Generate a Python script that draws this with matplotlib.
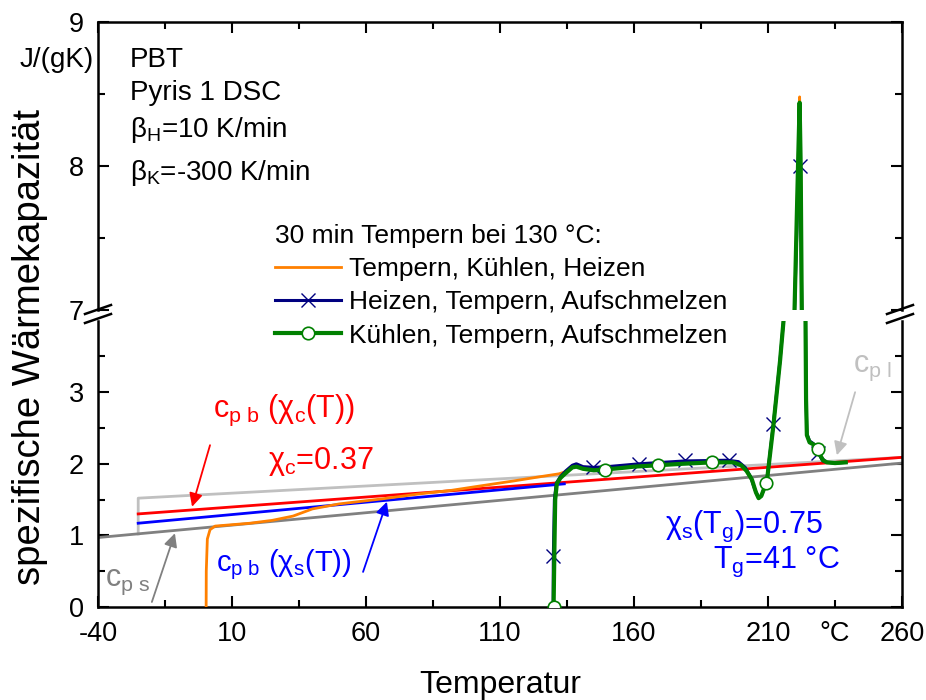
# PBT: specific heat capacity vs temperature, broken y axis (0-4 / 7-9)

import matplotlib.pyplot as plt
from matplotlib.lines import Line2D

plt.rcParams['font.family'] = ['Liberation Sans', 'DejaVu Sans']
plt.rcParams['mathtext.fontset'] = 'custom'
plt.rcParams['mathtext.rm'] = 'Liberation Sans'
plt.rcParams['mathtext.it'] = 'Liberation Sans'
plt.rcParams['mathtext.default'] = 'regular'
plt.rcParams['axes.unicode_minus'] = False

# --- Data ---
# solid / liquid heat capacity and baselines
T_cps = [-40, 260]
cp_s = [0.97, 2.01]
T_cpl = [-25, -25, 260]
cp_l = [1.02, 1.52, 2.09]
T_red = [-25, 260]
cp_red = [1.30, 2.09]
T_blue = [-25, 134]
cp_blue = [1.17, 1.72]

# Tempern, Kuehlen, Heizen (orange)
T_orange = [0.3, 0.4, 0.8, 1.8, 3.7, 16.7, 25, 32.8, 40, 50, 66, 80, 92, 102.5,
            115, 125, 132, 134.5, 137, 138.5, 141, 145, 150, 160, 170, 180, 190,
            197, 200, 202, 204, 205.5, 206.5, 207.5, 208.5, 209.6, 212, 214.5,
            215.8, 219.9, 221.2, 221.8, 222.2, 222.6, 224.0, 224.2, 224.5, 225.5,
            227, 228.5, 229.5, 230.5, 232, 235, 239]
cp_orange = [-0.5, 0.5, 0.95, 1.08, 1.13, 1.17, 1.21, 1.27, 1.37, 1.44, 1.51,
             1.58, 1.63, 1.69, 1.76, 1.82, 1.86, 1.89, 1.97, 1.99, 1.95, 1.94,
             1.95, 1.98, 2.00, 2.02, 2.03, 2.03, 1.99, 1.90, 1.78, 1.60, 1.52,
             1.55, 1.65, 1.77, 2.54, 3.44, 4.0, 7.0, 8.0, 8.48, 8.0, 7.0, 4.0,
             2.9, 2.40, 2.30, 2.27, 2.20, 2.11, 2.05, 2.02, 2.01, 2.02]

# Heizen, Tempern, Aufschmelzen (navy)
T_navy = [129.8, 129.9, 130.3, 131, 132.5, 134.5, 137, 138.5, 141, 145, 150,
          162, 179, 195, 199, 201.5, 203.5, 205, 206.5, 207.5, 208.5, 209.6,
          212, 214.5, 215.8, 219.9, 221.3, 221.8, 222.1, 222.6, 224.0, 224.2,
          224.5, 225.5, 227, 228.5, 229.5, 230.5, 232, 235, 239]
cp_navy = [-0.3, 0.7, 1.5, 1.73, 1.82, 1.90, 1.98, 2.00, 1.96, 1.95, 1.96,
           2.00, 2.04, 2.05, 2.03, 1.95, 1.82, 1.65, 1.53, 1.55, 1.65, 1.78,
           2.55, 3.45, 4.0, 7.0, 7.9, 8.05, 7.9, 7.0, 4.0, 2.9, 2.42, 2.32,
           2.28, 2.18, 2.10, 2.04, 2.02, 2.01, 2.02]
T_navy_mk = [129.8, 144.7, 162, 179, 195.4, 212, 228.5, 221.8]
cp_navy_mk = [0.71, 1.95, 2.00, 2.05, 2.06, 2.55, 2.15, 8.0]

# Kuehlen, Tempern, Aufschmelzen (green)
T_green = [129.9, 130.0, 130.3, 130.6, 131.2, 132.5, 134.5, 137, 138.5, 141,
           145, 149, 155, 160, 169, 178, 189, 197, 200, 202, 204, 205.5, 206.5,
           207.5, 208.5, 209.6, 212, 214.5, 215.8, 219.9, 221.2, 221.8, 222.2,
           222.6, 224.0, 224.2, 224.5, 225.5, 227, 228.5, 229.5, 230.5, 232,
           235, 239]
cp_green = [-0.3, 0.0, 0.8, 1.5, 1.72, 1.80, 1.87, 1.95, 1.96, 1.93, 1.91,
            1.92, 1.94, 1.96, 1.98, 2.00, 2.02, 2.02, 1.98, 1.90, 1.78, 1.60,
            1.52, 1.55, 1.65, 1.76, 2.53, 3.44, 4.0, 7.0, 8.0, 8.44, 8.0, 7.0,
            4.0, 2.9, 2.40, 2.30, 2.27, 2.21, 2.12, 2.05, 2.02, 2.01, 2.02]
T_green_mk = [130.0, 149.2, 169, 189, 209.3, 228.7]
cp_green_mk = [0.0, 1.92, 1.98, 2.02, 1.73, 2.21]

x_major = [-40, 10, 60, 110, 160, 210, 260]
x_minor = [-15, 35, 85, 135, 185, 235]
x_minor_labels = ['', '', '', '', '', '°C']

c_orange = '#ff8000'
c_navy = '#000080'
c_green = '#008000'

# --- Figure with broken y axis ---
W, H = 926, 700
fig = plt.figure(figsize=(W / 100, H / 100), dpi=100)
ax_hi = fig.add_axes([98 / W, 1 - 310 / H, 804 / W, 288 / H])
ax_lo = fig.add_axes([98 / W, 1 - 607 / H, 804 / W, 286.4 / H])

for ax in (ax_hi, ax_lo):
    ax.plot(T_cpl, cp_l, color='#c0c0c0', lw=2, zorder=2)
    ax.plot(T_cps, cp_s, color='#808080', lw=2, zorder=2)
    ax.plot(T_red, cp_red, color='#ff0000', lw=2, zorder=2)
    ax.plot(T_blue, cp_blue, color='#0000ff', lw=2, zorder=2)
    ax.plot(T_orange, cp_orange, color=c_orange, lw=2, zorder=3)
    ax.plot(T_navy, cp_navy, color=c_navy, lw=2.2, zorder=4)
    ax.plot(T_navy_mk, cp_navy_mk, ls='none', marker='x', ms=10, mew=1,
            color=c_navy, zorder=4)
    ax.plot(T_green, cp_green, color=c_green, lw=3, zorder=5)
    ax.plot(T_green_mk, cp_green_mk, ls='none', marker='o', ms=9, mew=1.2,
            mfc='white', mec=c_green, zorder=6)

    ax.set_xlim(-40, 260)
    ax.set_xticks(x_major)
    ax.set_xticks(x_minor, minor=True)
    for s in ax.spines.values():
        s.set_linewidth(1.8)
    ax.tick_params(which='both', direction='in', left=True, right=True,
                   width=1.5, labelsize=19.5, pad=10)
    ax.tick_params(which='major', length=8)
    ax.tick_params(which='minor', length=5)

ax_hi.set_ylim(7, 9)
ax_hi.set_yticks([7, 8, 9])
ax_hi.set_yticks([7.5, 8.5], minor=True)
ax_hi.spines['bottom'].set_visible(False)
ax_hi.tick_params(which='both', top=True, bottom=False, labelbottom=False)

ax_lo.set_ylim(0, 4)
ax_lo.set_yticks([0, 1, 2, 3])
ax_lo.set_yticks([0.5, 1.5, 2.5, 3.5], minor=True)
ax_lo.set_xticks(x_minor, x_minor_labels, minor=True)
ax_lo.spines['top'].set_visible(False)
ax_lo.tick_params(which='both', top=False, bottom=True)
ax_lo.set_xlabel('Temperatur', fontsize=23, labelpad=17)

# break marks on both vertical spines
for x0 in (85, 887):
    for y0 in (314, 323):
        fig.add_artist(Line2D([x0 / W, (x0 + 26) / W],
                              [1 - y0 / H, 1 - (y0 - 9) / H],
                              transform=fig.transFigure, color='k', lw=1.8))

fig.text(30 / W, 1 - 347 / H, 'spezifische Wärmekapazität', rotation=90,
         ha='center', va='center', fontsize=27.5)
fig.text(94 / W, 1 - 60 / H, 'J/(gK)', ha='right', va='center', fontsize=20)

# info text, top left
ax_hi.text(-28.1, 8.6875, 'PBT', fontsize=20)
ax_hi.text(-28.1, 8.458, 'Pyris 1 DSC', fontsize=20)
ax_hi.text(-28.1, 8.20, 'β$_H$=10 K/min', fontsize=20)
ax_hi.text(-28.1, 7.90, 'β$_K$=-300 K/min', fontsize=20)

# annotations in the lower panel
ax_lo.text(29.5, 2.75, 'c$_{p\\ b}$ (χ$_c$(T))', color='#ff0000', fontsize=22,
           ha='center', va='center')
ax_lo.text(43.2, 2.03, 'χ$_c$=0.37', color='#ff0000', fontsize=22,
           ha='center', va='center')
ax_lo.text(29.5, 0.59, 'c$_{p\\ b}$ (χ$_s$(T))', color='#0000ff', fontsize=21,
           ha='center', va='center')
ax_lo.text(201, 1.12, 'χ$_s$(T$_g$)=0.75', color='#0000ff', fontsize=22,
           ha='center', va='center')
ax_lo.text(213, 0.63, 'T$_g$=41 °C', color='#0000ff', fontsize=22,
           ha='center', va='center')
ax_lo.text(-28.8, 0.35, 'c$_{p\\ s}$', color='#808080', fontsize=22,
           ha='center', va='center')
ax_lo.text(248.8, 3.34, 'c$_{p\\ l}$', color='#c0c0c0', fontsize=22,
           ha='center', va='center')

arrows = [((1.8, 2.26), (-4.9, 1.40), '#ff0000'),
          ((58.9, 0.49), (67.8, 1.47), '#0000ff'),
          ((-19.9, 0.07), (-11.3, 1.03), '#808080'),
          ((242.5, 3.0), (235.7, 2.12), '#c0c0c0')]
for start, end, c in arrows:
    ax_lo.annotate('', xy=end, xytext=start,
                   arrowprops=dict(arrowstyle='-|>', color=c, lw=1.3,
                                   mutation_scale=20, shrinkA=0, shrinkB=0))

# legend
handles = [Line2D([], [], color=c_orange, lw=2),
           Line2D([], [], color=c_navy, lw=2.2, marker='x', ms=10, mew=1),
           Line2D([], [], color=c_green, lw=3, marker='o', ms=9, mew=1.2,
                  mfc='white', mec=c_green)]
labels = ['Tempern, Kühlen, Heizen', 'Heizen, Tempern, Aufschmelzen',
          'Kühlen, Tempern, Aufschmelzen']
fig.legend(handles, labels, title='30 min Tempern bei 130 °C:',
           loc='upper left', bbox_to_anchor=(275 / W, 1 - 224 / H),
           frameon=False, fontsize=19, title_fontsize=19, alignment='left',
           handlelength=2.5, handletextpad=0.3, labelspacing=0.35,
           borderpad=0, borderaxespad=0)

plt.savefig('out.png', dpi=100)
